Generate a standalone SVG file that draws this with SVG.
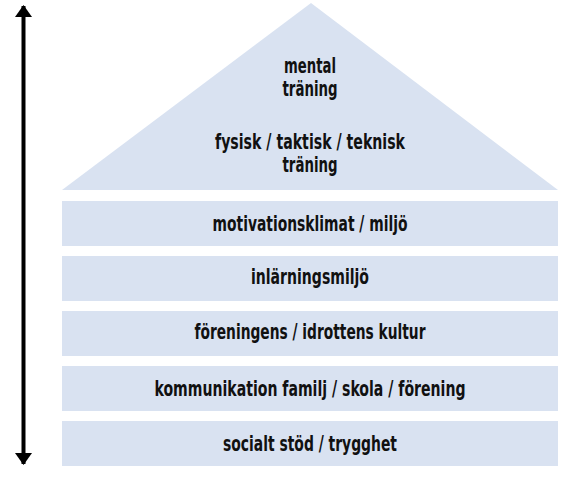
<svg xmlns="http://www.w3.org/2000/svg" width="582" height="481" viewBox="0 0 582 481">
<style>
.shape{fill:#D9E2F1;stroke:none}
.lbl{font-family:"DejaVu Sans Condensed","Liberation Sans Narrow","Liberation Sans",sans-serif;font-stretch:condensed;font-weight:bold;font-size:21px;fill:#111;text-anchor:middle}
.conn{stroke:#000;stroke-width:4;fill:none}
</style>
<defs>
<marker id="ah" markerWidth="13" markerHeight="18" refX="11" refY="8.5" orient="auto-start-reverse" markerUnits="userSpaceOnUse">
<path d="M0,0 L12,8.5 L0,17 Z" fill="#000"/>
</marker>
</defs>
<rect width="582" height="481" fill="#fff"/>
<g id="roof">
<polygon class="shape" points="311,3 558,190 62,190"/>
<text class="lbl" x="310" y="73" textLength="52" lengthAdjust="spacingAndGlyphs">mental</text>
<text class="lbl" x="310" y="96" textLength="55" lengthAdjust="spacingAndGlyphs">träning</text>
<text class="lbl" x="310" y="149" textLength="190" lengthAdjust="spacingAndGlyphs">fysisk / taktisk / teknisk</text>
<text class="lbl" x="310" y="172" textLength="55" lengthAdjust="spacingAndGlyphs">träning</text>
</g>
<g id="band1">
<rect class="shape" x="62" y="201" width="496" height="45"/>
<text class="lbl" x="310" y="231" textLength="195" lengthAdjust="spacingAndGlyphs">motivationsklimat / miljö</text>
</g>
<g id="band2">
<rect class="shape" x="62" y="256" width="496" height="45"/>
<text class="lbl" x="310" y="284" textLength="118" lengthAdjust="spacingAndGlyphs">inlärningsmiljö</text>
</g>
<g id="band3">
<rect class="shape" x="62" y="311" width="496" height="45"/>
<text class="lbl" x="310" y="339" textLength="231" lengthAdjust="spacingAndGlyphs">föreningens / idrottens kultur</text>
</g>
<g id="band4">
<rect class="shape" x="62" y="366" width="496" height="45"/>
<text class="lbl" x="310" y="396" textLength="311" lengthAdjust="spacingAndGlyphs">kommunikation familj / skola / förening</text>
</g>
<g id="band5">
<rect class="shape" x="62" y="421" width="496" height="45"/>
<text class="lbl" x="310" y="451" textLength="174" lengthAdjust="spacingAndGlyphs">socialt stöd / trygghet</text>
</g>
<g id="connectors">
<line class="conn" x1="23.5" y1="6" x2="23.5" y2="464" marker-start="url(#ah)" marker-end="url(#ah)"/>
</g>
</svg>
